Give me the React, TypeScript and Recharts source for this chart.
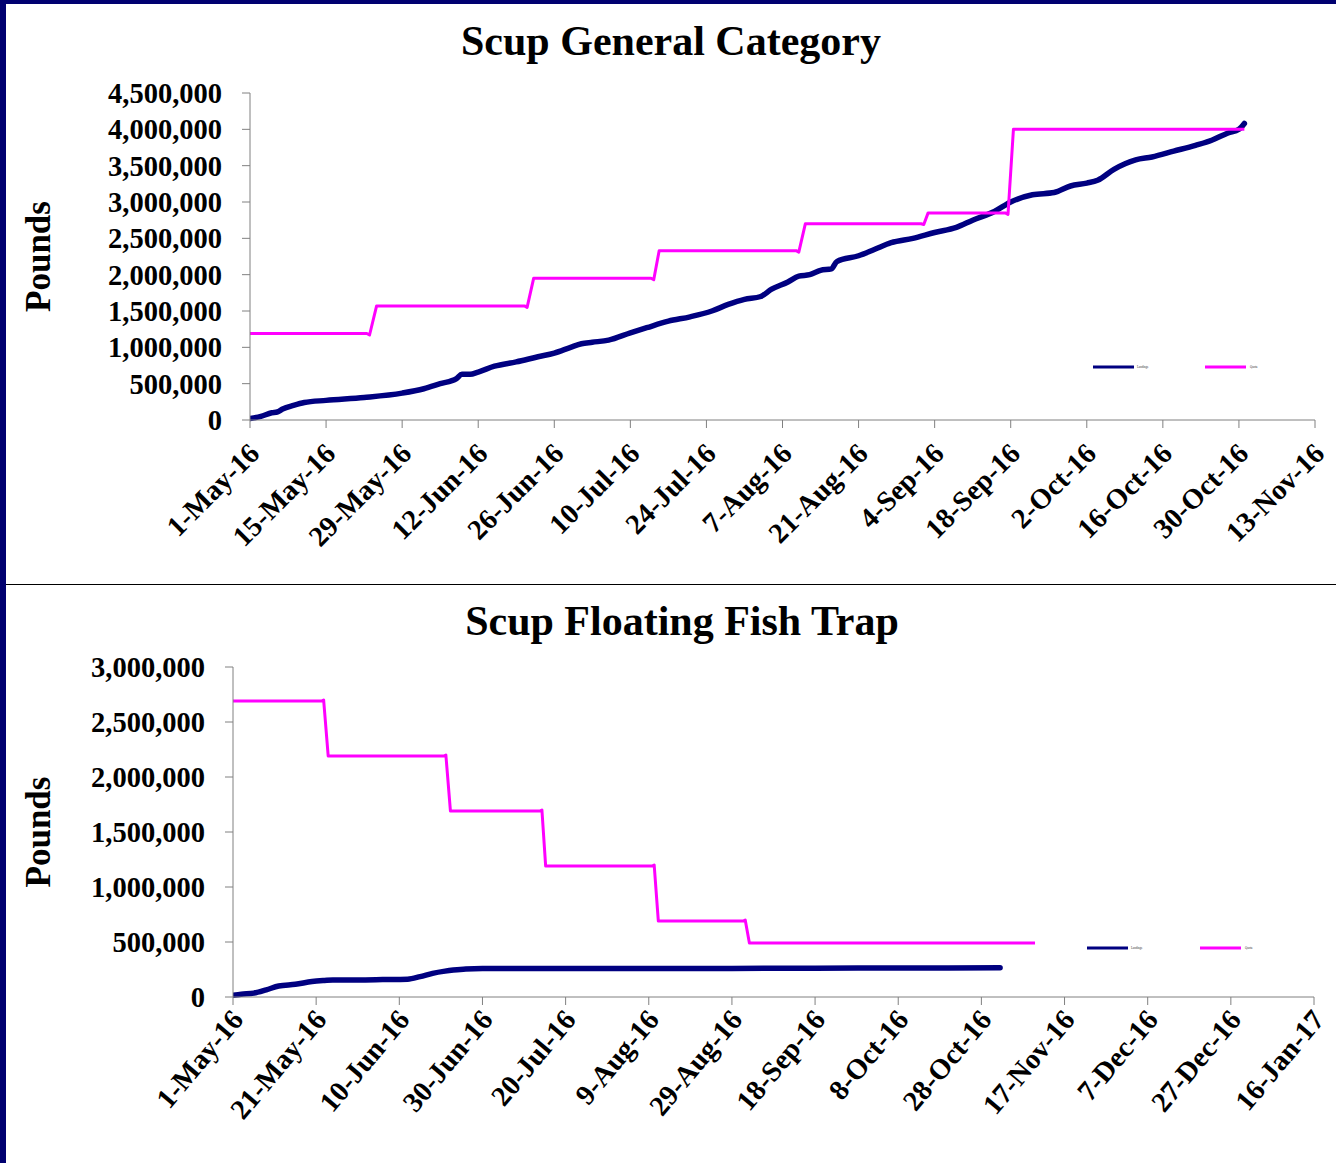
import { LineChart, Line, XAxis, YAxis, Legend } from 'recharts'

// ---- Scup General Category (days since 1-May-16) ----
const genLandDays = [0, 2, 4, 5, 6, 8, 10, 14, 21, 28, 32, 35, 38, 39, 40.5, 42, 45, 49, 53, 56, 59, 61, 63, 66, 70, 73, 77, 81, 85, 88, 91, 94, 96, 99, 101, 103, 105, 107, 108, 112, 115, 118, 122, 126, 130, 133, 137, 140, 144, 148, 151, 154, 156, 159, 163, 166, 170, 174, 177, 180, 182, 183]
const genLandLbs = [20000, 50000, 100000, 110000, 150000, 200000, 240000, 270000, 310000, 370000, 430000, 500000, 570000, 630000, 630000, 660000, 740000, 800000, 870000, 920000, 1000000, 1050000, 1070000, 1100000, 1200000, 1270000, 1360000, 1420000, 1500000, 1590000, 1660000, 1700000, 1800000, 1900000, 1980000, 2000000, 2060000, 2080000, 2180000, 2260000, 2350000, 2440000, 2500000, 2580000, 2650000, 2750000, 2870000, 3000000, 3100000, 3130000, 3220000, 3260000, 3300000, 3450000, 3580000, 3620000, 3700000, 3780000, 3850000, 3950000, 4000000, 4080000]
const genQuotaDays = [0, 21.5, 22, 23.3, 50.5, 51, 52.2, 73.8, 74.3, 75.3, 100.5, 101, 102.2, 123.5, 124, 124.8, 139, 139.5, 140.5, 183]
const genQuotaLbs = [1190000, 1190000, 1170000, 1570000, 1570000, 1550000, 1950000, 1950000, 1930000, 2330000, 2330000, 2310000, 2700000, 2700000, 2690000, 2850000, 2850000, 2830000, 4000000, 4000000]
const genTickDays = [0, 14, 28, 42, 56, 70, 84, 98, 112, 126, 140, 154, 168, 182, 196]
const genTickLabels = ['1-May-16', '15-May-16', '29-May-16', '12-Jun-16', '26-Jun-16', '10-Jul-16', '24-Jul-16', '7-Aug-16', '21-Aug-16', '4-Sep-16', '18-Sep-16', '2-Oct-16', '16-Oct-16', '30-Oct-16', '13-Nov-16']
const genYTicks = [0, 500000, 1000000, 1500000, 2000000, 2500000, 3000000, 3500000, 4000000, 4500000]

// ---- Scup Floating Fish Trap ----
const trapLandDays = [0, 2, 5, 8, 11, 15, 19, 22, 24, 30, 36, 42, 45, 48, 51, 53, 56, 60, 80, 100, 120, 140, 160, 184.5]
const trapLandLbs = [15000, 25000, 35000, 65000, 100000, 115000, 140000, 150000, 155000, 155000, 158000, 162000, 185000, 215000, 235000, 245000, 255000, 258000, 260000, 260000, 260000, 262000, 264000, 265000]
const trapQuotaDays = [0, 21.3, 21.8, 22.9, 50.7, 51.2, 52.3, 73.8, 74.3, 75.2, 100.8, 101.3, 102.3, 122.7, 123.2, 124.2, 192.9]
const trapQuotaLbs = [2690000, 2690000, 2700000, 2190000, 2190000, 2200000, 1690000, 1690000, 1700000, 1190000, 1190000, 1200000, 690000, 690000, 700000, 490000, 490000]
const trapTickDays = [0, 20, 40, 60, 80, 100, 120, 140, 160, 180, 200, 220, 240, 260]
const trapTickLabels = ['1-May-16', '21-May-16', '10-Jun-16', '30-Jun-16', '20-Jul-16', '9-Aug-16', '29-Aug-16', '18-Sep-16', '8-Oct-16', '28-Oct-16', '17-Nov-16', '7-Dec-16', '27-Dec-16', '16-Jan-17']
const trapYTicks = [0, 500000, 1000000, 1500000, 2000000, 2500000, 3000000]

const NAVY = '#000080'
const MAGENTA = '#ff00ff'
const AXIS = '#808080'
const FONT = '"Liberation Serif", "Times New Roman", serif'

const zip = (days: number[], lbs: number[]) => days.map((d, i) => ({ d, v: lbs[i] }))

const fmt = (v: number) => v.toLocaleString('en-US')

function makeDateTick(days: number[], labels: string[], drop: number, angle: number) {
  return (props: any) => {
    const { x, y, payload } = props
    const label = labels[days.indexOf(payload.value)] ?? ''
    return (
      <g transform={`translate(${x + 4},${y + drop})`}>
        <text
          textAnchor="end"
          transform={`rotate(${angle})`}
          dy="0.35em"
          fontSize={28.5}
          fontWeight="bold"
          fontFamily={FONT}
          fill="#000"
        >
          {label}
        </text>
      </g>
    )
  }
}

function TinyLegend({ gap }: { gap: number }) {
  return (
    <svg width={200} height={10} style={{ display: 'block' }}>
      <line x1={0} x2={41} y1={5} y2={5} stroke={NAVY} strokeWidth={3} />
      <text x={44} y={6} fontSize={3} fill="#333" fontFamily={FONT}>Landings</text>
      <line x1={gap} x2={gap + 41} y1={5} y2={5} stroke={MAGENTA} strokeWidth={3} />
      <text x={gap + 45} y={6} fontSize={3} fill="#333" fontFamily={FONT}>Quota</text>
    </svg>
  )
}

const poundsLabel = (props: any) => {
  const vb = props.viewBox
  const cx = 32
  const cy = vb.y + vb.height / 2
  return (
    <text
      x={cx}
      y={cy}
      transform={`rotate(-90, ${cx}, ${cy})`}
      textAnchor="middle"
      dominantBaseline="central"
      fontSize={35}
      fontWeight="bold"
      fontFamily={FONT}
      fill="#000"
    >
      Pounds
    </text>
  )
}

const yTickStyle = { fill: '#000', fontSize: 28.5, fontWeight: 'bold', fontFamily: FONT }

interface PanelProps {
  title: string
  top: number
  height: number
  titleTop: number
  titleCenter: number
  margin: { top: number; right: number; bottom: number; left: number }
  yWidth: number
  xHeight: number
  xMax: number
  yMax: number
  yTicks: number[]
  tickDays: number[]
  tickLabels: string[]
  tickDrop: number
  tickAngle: number
  landings: { d: number; v: number }[]
  quota: { d: number; v: number }[]
  legendLeft: number
  legendTop: number
  legendGap: number
}

function Panel(p: PanelProps) {
  return (
    <>
      <div
        style={{
          position: 'absolute',
          top: p.titleTop,
          left: p.titleCenter - 400,
          width: 800,
          textAlign: 'center',
          fontFamily: FONT,
          fontWeight: 'bold',
          fontSize: 42,
          lineHeight: '42px',
          color: '#000',
        }}
      >
        {p.title}
      </div>
      <div style={{ position: 'absolute', left: 6, top: p.top }}>
        <LineChart width={1330} height={p.height} margin={p.margin}>
          <XAxis
            dataKey="d"
            type="number"
            domain={[0, p.xMax]}
            ticks={p.tickDays}
            interval={0}
            allowDataOverflow
            stroke={AXIS}
            tickSize={8}
            tickMargin={2}
            height={p.xHeight}
            tick={makeDateTick(p.tickDays, p.tickLabels, p.tickDrop, p.tickAngle)}
          />
          <YAxis
            type="number"
            domain={[0, p.yMax]}
            ticks={p.yTicks}
            interval={0}
            stroke={AXIS}
            tickSize={8}
            tickMargin={20}
            width={p.yWidth}
            tick={yTickStyle}
            tickFormatter={fmt}
            label={poundsLabel}
          />
          <Legend
            content={() => <TinyLegend gap={p.legendGap} />}
            wrapperStyle={{ position: 'absolute', left: p.legendLeft, top: p.legendTop, width: 200, height: 10, bottom: 'auto' }}
          />
          <Line
            data={p.landings}
            dataKey="v"
            type="monotone"
            stroke={NAVY}
            strokeWidth={5.5}
            strokeLinecap="round"
            strokeLinejoin="round"
            dot={false}
            legendType="none"
            isAnimationActive={false}
          />
          <Line
            data={p.quota}
            dataKey="v"
            type="linear"
            stroke={MAGENTA}
            strokeWidth={3}
            strokeLinejoin="round"
            dot={false}
            legendType="none"
            isAnimationActive={false}
          />
        </LineChart>
      </div>
    </>
  )
}

export default function App() {
  return (
    <div style={{ position: 'absolute', left: 0, top: 0, width: 1336, height: 1163, background: '#000070', overflow: 'hidden' }}>
      <div style={{ position: 'absolute', left: 6, top: 4, width: 1330, height: 1159, background: '#fff' }} />
      <div style={{ position: 'absolute', left: 6, top: 584, width: 1330, height: 1, background: '#000' }} />
      <Panel
        title="Scup General Category"
        top={4}
        height={580}
        titleTop={20}
        titleCenter={671}
        margin={{ top: 89, right: 21, bottom: 0, left: 0 }}
        yWidth={244}
        xHeight={154}
        xMax={196}
        yMax={4500000}
        yTicks={genYTicks}
        tickDays={genTickDays}
        tickLabels={genTickLabels}
        tickDrop={18}
        tickAngle={-45}
        landings={zip(genLandDays, genLandLbs)}
        quota={zip(genQuotaDays, genQuotaLbs)}
        legendLeft={1087}
        legendTop={358}
        legendGap={112}
      />
      <Panel
        title="Scup Floating Fish Trap"
        top={585}
        height={578}
        titleTop={600}
        titleCenter={682}
        margin={{ top: 82, right: 22, bottom: 0, left: 0 }}
        yWidth={227}
        xHeight={156}
        xMax={260}
        yMax={3000000}
        yTicks={trapYTicks}
        tickDays={trapTickDays}
        tickLabels={trapTickLabels}
        tickDrop={7}
        tickAngle={-50}
        landings={zip(trapLandDays, trapLandLbs)}
        quota={zip(trapQuotaDays, trapQuotaLbs)}
        legendLeft={1081}
        legendTop={358}
        legendGap={113}
      />
    </div>
  )
}
